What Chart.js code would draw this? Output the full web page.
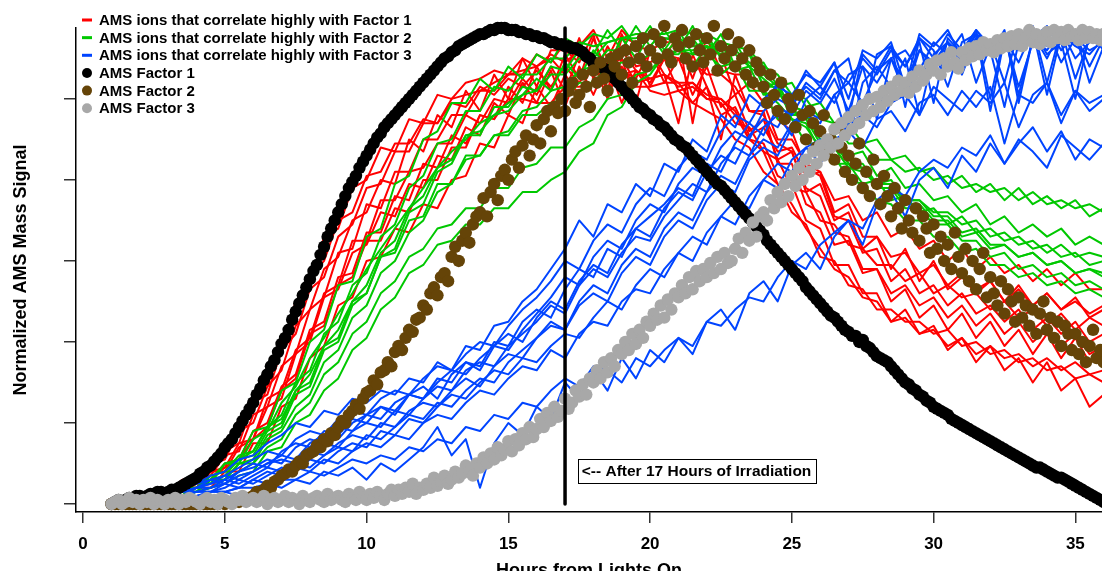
<!DOCTYPE html>
<html><head><meta charset="utf-8">
<script src="https://cdn.jsdelivr.net/npm/chart.js@4/dist/chart.umd.min.js"></script>
<style>html,body{margin:0;padding:0;overflow:hidden;background:#fff;}#wrap{width:1102px;height:580px;}canvas{display:block;}</style>
</head><body><div id="wrap"><canvas id="c" width="1102" height="580" style="width:1102px;height:580px"></canvas></div>
<script>
// ---------- DATA ----------
const xTickValues = [0,5,10,15,20,25,30,35];
const yTickValues = [0,20,40,60,80,100];
const markerHour = 17;
const noteText = '<-- After 17 Hours of Irradiation';
const noteHour = 17.45;
const noteLevel = 8.1;
const legendLabels = ['AMS ions that correlate highly with Factor 1','AMS ions that correlate highly with Factor 2','AMS ions that correlate highly with Factor 3','AMS Factor 1','AMS Factor 2','AMS Factor 3'];

const hoursLines = [1,1.5,2,2.5,3,3.5,4,4.5,5,5.5,6,6.5,7,7.5,8,8.5,9,9.5,10,10.5,11,11.5,12,12.5,13,13.5,14,14.5,15,15.5,16,16.5,17,17.5,18,18.5,19,19.5,20,20.5,21,21.5,22,22.5,23,23.5,24,24.5,25,25.5,26,26.5,27,27.5,28,28.5,29,29.5,30,30.5,31,31.5,32,32.5,33,33.5,34,34.5,35,35.5,36];
const hoursFactors = [
1,1.125,1.25,1.375,1.5,1.625,1.75,1.875, 2,2.125,2.25,2.375,2.5,2.625,2.75,2.875, 3,3.125,3.25,3.375,3.5,3.625,3.75,3.875,
4,4.125,4.25,4.375,4.5,4.625,4.75,4.875, 5,5.125,5.25,5.375,5.5,5.625,5.75,5.875, 6,6.125,6.25,6.375,6.5,6.625,6.75,6.875,
7,7.125,7.25,7.375,7.5,7.625,7.75,7.875, 8,8.125,8.25,8.375,8.5,8.625,8.75,8.875, 9,9.125,9.25,9.375,9.5,9.625,9.75,9.875,
10,10.125,10.25,10.375,10.5,10.625,10.75,10.875, 11,11.125,11.25,11.375,11.5,11.625,11.75,11.875, 12,12.125,12.25,12.375,12.5,12.625,12.75,12.875,
13,13.125,13.25,13.375,13.5,13.625,13.75,13.875, 14,14.125,14.25,14.375,14.5,14.625,14.75,14.875, 15,15.125,15.25,15.375,15.5,15.625,15.75,15.875,
16,16.125,16.25,16.375,16.5,16.625,16.75,16.875, 17,17.125,17.25,17.375,17.5,17.625,17.75,17.875, 18,18.125,18.25,18.375,18.5,18.625,18.75,18.875,
19,19.125,19.25,19.375,19.5,19.625,19.75,19.875, 20,20.125,20.25,20.375,20.5,20.625,20.75,20.875, 21,21.125,21.25,21.375,21.5,21.625,21.75,21.875,
22,22.125,22.25,22.375,22.5,22.625,22.75,22.875, 23,23.125,23.25,23.375,23.5,23.625,23.75,23.875, 24,24.125,24.25,24.375,24.5,24.625,24.75,24.875,
25,25.125,25.25,25.375,25.5,25.625,25.75,25.875, 26,26.125,26.25,26.375,26.5,26.625,26.75,26.875, 27,27.125,27.25,27.375,27.5,27.625,27.75,27.875,
28,28.125,28.25,28.375,28.5,28.625,28.75,28.875, 29,29.125,29.25,29.375,29.5,29.625,29.75,29.875, 30,30.125,30.25,30.375,30.5,30.625,30.75,30.875,
31,31.125,31.25,31.375,31.5,31.625,31.75,31.875, 32,32.125,32.25,32.375,32.5,32.625,32.75,32.875, 33,33.125,33.25,33.375,33.5,33.625,33.75,33.875,
34,34.125,34.25,34.375,34.5,34.625,34.75,34.875, 35,35.125,35.25,35.375,35.5,35.625,35.75,35.875, 36];

const factor1 = [
0,0.5,1,0.5,1,1.5,1,2, 2,1.5,2,2.5,2.5,3,3,2.5, 3,3.5,3.5,4,4.5,5,5.5,6,
6.5,7.5,8,9,9.5,10.5,11.5,12.5, 14,15,16,17.5,19,20.5,22,23.5, 25,27,28.5,30.5,32,34,35.5,37.5,
39.5,41,43,45.5,47.5,49.5,51.5,53.5, 55.5,57.5,59,61.5,63.5,66,68,70, 72,74,76,78,79.5,81,83,84.5,
86,87.5,89,90.5,91.5,93,94,95, 96,97,98,99,100,101,102,103, 104,105,106,107,108,109,110,110.5,
111.5,112,113,113.5,114,114.5,115,115.5, 116,116,116.5,117,117,117.5,117.5,117.5, 117,117,117,116.5,116.5,116,116,115.5,
115.5,115,115,114.5,114,114,113.5,113.5, 113,113,112.5,112.5,112,111.5,110.5,110, 109,108.5,108,107.5,107,106,105,104,
103,102,101,100,99,98,97.5,96.5, 96,95,94.5,93.5,93,92,91,90, 89.5,88.5,88,87,86,85,84,83,
82,81,80,79,78.5,77.5,76.5,75.5, 74.5,73.5,72.5,71.5,70.5,69.5,68.5,67.5, 66.5,65,64,63,62,61,60,59,
58,57,56,55,53.5,52.5,51.5,50.5, 49.5,48.5,47.5,46.5,46,45,44,43, 42.5,41.5,41.5,40,40.5,39,38.5,37.5,
36.5,36,35.5,35,34,33,32,31, 30,29.5,28.5,28,27,26.5,25.5,25, 24,23.5,23,22.5,22,21,20.5,20,
19.5,19,18.5,18,17.5,17,16.5,16, 15.5,15,14.5,14,13.5,13,12.5,12, 11.5,11,10.5,10,9.5,9,9,8.5,
8,7.5,7,6.5,6.5,6,5.5,5, 4.5,4,3.5,3,2.5,2,1.5,1, 0.5];
const factor2 = [
0,0,0,0,0,0,0,0, 0,0,0,0,0,0,0,0, 0,0,0,0,0,0,0,0,
0,0,0,0,0,0,0,0.5, 0,0.5,0.5,1,0.5,1,1,1.5, 2,3,2.5,3.5,4.5,4,5.5,6,
7,7.5,8.5,8,9.5,10.5,10,12, 12.5,13,14.5,14,16,15.5,17.5,17, 19,20.5,20,22,23,24.5,23.5,26,
27.5,28,30.5,29.5,32.5,33,35,34, 37.5,39,38,41,43,42.5,45.5,46, 49,48,52,53.5,51.5,56,57,55,
61,63.5,60,65,67,64.5,69,71, 72,75.5,71,77,79,75,81,82.5, 80,85,87,83,88.5,91,86,90,
93.5,89,95,97,92,98,96.5,100, 97,102,104,99,101,106,103,98, 107,104,109,105,102,110,108,111,
106,112,109,104,113,110,115,108, 112,116,110,114,118,111,109,115, 113,117,110,114,108,116,112,109,
115,111,118,107,113,110,116,112, 108,114,110,106,112,104,109,107, 103,99,106,101,97,104,95,100,
98,93,101,96,90,97,94,88, 92,96,87,90,85,93,88,82, 86,80,84,89,78,82,76,85,
79,74,81,76,71,78,73,68, 75,70,67,73,65,71,68,62, 69,63,66,60,64,58,67,61,
57,63,55,60,53,58,62,51, 56,52,49,55,47,53,50,45, 51,46,49,44,48,42,47,50,
43,46,41,45,39,44,42,38, 42,37,40,35,39,43,36,38, 35];
const factor3 = [
0,0.5,1,0,0.5,1.5,0.5,1, 0,1,0.5,1.5,0,1,0.5,0, 1,0.5,1.5,0,1,0.5,1.5,1,
0.5,0,1,1.5,0.5,1,0,1.5, 1,0.5,0,1.5,1,2,0.5,1, 1.5,0.5,1,2,0,1,1.5,0.5,
1,2,0.5,1.5,1,0,2,1, 0.5,1.5,2,1,0.5,2.5,1,1.5, 2,1,0.5,2.5,1.5,1,3,1.5,
1,2.5,1.5,3,2,1,2.5,3.5, 2,3.5,2.5,4,3,5,2.5,4, 3.5,5,4,6.5,4.5,5.5,7,5,
6,8,6.5,7.5,9.5,8,7,10, 9,11.5,10,12.5,11,14,12,13.5, 15.5,13,16,14.5,17.5,16,19,16.5,
18.5,21,19,22.5,20.5,24,21.5,23, 26,23.5,25,28,26.5,29.5,27,31, 30,33,31,35,32.5,36,34,38,
37,40,38,42,39.5,43,41,45, 44,47,45.5,49,46,50.5,48,52, 51,54,52,56,53,57.5,55,58,
56,59.5,57,61,58,62,59.5,60, 63,65.5,62,67,65,69.5,66,71, 72,70,75,73,77,74.5,79,76,
81,78.5,83,80,85,82,87,84, 88.5,86,90,88,92.5,89,94,91, 95.5,92.5,97,94,98.5,96,100,97,
100.5,98,102,99.5,103,101,104.5,102, 104,101.5,105.5,103,107,104.5,106,108.5, 107,109.5,106,110,108,111.5,109,107.5,
111.5,109.5,112.5,110.5,113,111,114,112, 113.5,111.5,114.5,112.5,115,113,115.5,113.5, 116,113,115,117,114,116,113.5,115,
116.5,114,117,115,116.5,114.5,117,115.5, 116,114.5,117,115,116.5,115,116,114.5, 116];

const ionsFactor1 = [
 [1,2,1,3,3,6,6,11,13,21, 24,34,38,50,54,66,68,78,80,88, 87,95,94,101,100,104,105,107,106,110, 108,111,109,112,110,106,112,107,104,110, 102,103,100,99,94,93,87,85,78,77, 70,69,64,63,59,59,55,57,52,54, 51,52,48,50,46,48,44,47,43,46, 44],
 [1,1,2,2,4,3,7,8,13,15, 25,27,38,42,53,56,66,69,78,79, 87,87,94,94,100,101,102,104,106,107, 108,110,106,115,105,113,107,105,112,104, 110,101,108,98,101,92,95,85,87,77, 79,70,72,63,66,58,63,55,60,53, 56,52,55,50,53,49,52,48,50,47, 49],
 [1,1,1,2,2,4,4,8,8,14, 16,24,26,37,40,51,53,62,64,72, 71,79,78,86,85,93,91,99,96,104, 99,107,98,108,101,109,99,107,102,101, 102,99,97,95,90,88,82,79,72,69, 61,60,54,53,48,48,45,45,42,43, 39,40,37,38,35,36,33,34,31,32, 30],
 [1,1,1,2,2,3,5,6,9,11, 16,19,28,31,42,44,54,56,65,65, 73,72,80,80,88,88,96,95,103,99, 108,102,111,105,115,106,116,108,109,111, 110,109,106,106,103,97,96,89,87,78, 76,67,66,58,58,50,53,46,49,43, 47,41,45,39,43,37,42,36,41,35, 38],
 [1,1,1,1,2,2,4,4,8,8, 15,15,24,26,36,39,49,51,60,61, 68,67,74,73,80,81,89,88,96,94, 103,98,106,101,109,100,110,104,105,106, 103,104,101,100,97,90,89,81,79,70, 68,59,59,52,52,45,48,42,44,38, 41,35,39,33,36,30,35,28,31,24, 27],
 [1,1,2,3,3,5,6,10,11,18, 20,29,33,44,48,58,61,70,72,80, 79,90,87,96,93,102,97,106,100,110, 103,112,112,109,116,102,115,114,103,110, 116,94,112,111,101,104,99,90,90,84, 82,72,74,66,66,61,62,57,59,54, 57,53,55,50,54,49,52,48,51,46, 48],
 [1,1,2,1,3,3,6,7,12,13, 22,24,34,37,48,51,62,63,74,73, 82,82,90,90,96,96,102,102,106,106, 111,109,114,113,117,110,117,113,112,114, 114,105,115,107,106,106,102,95,92,83, 81,71,70,62,63,55,58,52,54,49, 52,47,49,45,48,43,46,42,45,40, 42],
 [1,1,1,2,2,3,5,6,10,11, 18,20,29,32,43,45,56,57,67,67, 76,75,84,83,91,89,96,95,100,100, 99,99,103,103,104,105,106,107,105,106, 104,104,100,100,96,90,87,79,74,68, 63,58,56,51,50,45,46,42,43,39, 41,37,39,36,37,34,36,33,35,32, 33],
 [1,1,2,2,4,4,8,9,14,17, 26,29,40,45,56,60,70,72,81,82, 89,89,95,94,99,98,103,101,105,103, 107,103,108,104,109,102,108,103,103,104, 104,99,103,96,98,91,93,87,88,81, 82,75,76,70,72,66,68,63,65,60, 63,58,61,57,59,55,58,54,57,53, 53],
 [1,1,1,2,2,4,4,8,9,15, 16,26,28,38,41,52,54,65,65,75, 75,82,83,89,89,96,94,100,99,105, 101,108,102,111,109,108,110,99,112,106, 94,111,103,90,106,97,97,84,84,74, 72,64,65,57,58,52,54,49,51,46, 49,44,47,42,45,40,43,39,42,37, 39]
];
const ionsFactor2 = [
 [1,1,2,2,4,3,6,6,10,11, 18,19,28,30,40,43,54,55,66,68, 79,81,90,92,99,99,105,102,108,105, 111,109,115,113,116,115,118,113,118,112, 117,111,116,110,114,108,109,103,104,98, 99,94,94,89,90,85,86,82,83,79, 81,77,79,75,78,74,76,73,75,71, 73],
 [1,1,1,2,2,4,4,7,8,11, 13,19,22,30,33,42,45,54,57,66, 69,78,81,89,90,97,97,103,102,106, 106,110,110,114,113,114,115,116,116,115, 115,113,113,112,107,108,101,102,96,96, 91,91,86,87,81,83,78,79,75,76, 72,74,69,71,67,69,66,68,64,66, 64],
 [1,1,1,1,2,3,3,6,6,10, 11,17,19,27,29,38,40,49,52,61, 63,72,74,82,84,91,91,98,98,103, 102,108,107,112,111,117,112,118,113,117, 112,118,111,116,108,112,103,104,97,96, 90,90,84,84,79,80,75,75,71,71, 67,68,64,64,61,62,59,60,57,58, 56],
 [1,1,2,1,3,2,6,5,10,10, 16,18,25,29,36,41,47,52,58,63, 68,73,78,83,87,90,94,96,99,101, 105,102,109,105,112,108,115,110,116,111, 115,108,113,106,109,102,102,95,95,89, 89,84,84,79,80,75,76,72,73,69, 71,67,68,65,66,63,64,61,62,59, 60],
 [1,1,1,1,1,2,3,4,6,8, 10,14,16,22,25,32,35,42,45,52, 55,61,63,68,69,73,73,78,78,83, 84,88,88,93,95,100,101,106,107,111, 112,112,113,111,111,108,105,102,97,95, 89,88,83,83,78,78,73,73,69,69, 65,65,61,62,58,59,56,57,54,55, 53],
 [1,1,1,2,2,3,4,6,7,11, 12,18,20,28,30,39,41,50,52,61, 62,70,71,79,79,86,86,91,91,96, 96,99,100,104,104,108,109,109,111,110, 112,111,111,108,109,105,102,99,95,93, 88,88,83,82,79,79,75,75,72,72, 69,70,66,67,64,65,62,64,61,62, 61],
 [1,1,1,2,2,4,4,7,8,12, 13,19,21,28,32,39,43,50,54,62, 65,73,76,83,85,91,92,96,97,101, 102,106,106,110,110,114,115,115,116,116, 117,116,116,114,113,112,108,106,101,100, 95,94,89,89,85,85,82,83,80,81, 78,79,77,78,75,77,74,75,73,74, 72],
 [1,1,1,1,2,3,3,6,6,10, 10,16,18,24,27,35,38,46,49,57, 60,67,70,77,79,85,86,91,92,97, 98,102,103,107,108,112,112,113,115,115, 114,113,114,112,112,109,106,103,98,97, 91,89,84,83,79,79,74,74,70,70, 66,67,63,64,61,62,59,60,57,58, 57],
 [1,1,1,1,1,2,3,4,5,7, 8,13,14,20,22,28,31,38,41,48, 51,57,59,64,65,69,69,73,73,77, 77,80,82,87,89,96,98,104,106,111, 111,115,110,114,107,111,103,103,95,94, 87,86,80,79,75,74,70,70,66,66, 62,63,59,59,56,57,54,55,52,53, 51]
];
const ionsFactor3 = [
 [1,2,1,3,2,4,5,7,8,11, 12,15,17,20,19,23,22,26,25,28, 27,31,30,35,33,39,38,44,45,50, 53,58,63,70,66,74,72,79,76,84, 82,90,87,96,93,101,98,104,100,107, 103,109,95,111,107,113,98,115,110,116, 112,117,100,116,113,118,104,117,114,116, 112],
 [1,1,2,2,3,2,4,5,6,8, 10,9,13,15,14,18,17,21,20,24, 23,27,26,31,30,35,34,40,39,45, 48,46,53,58,56,63,61,68,71,74, 78,76,84,82,89,94,91,98,96,102, 99,105,97,108,104,110,101,112,108,114, 106,115,111,116,103,114,117,109,115,112, 114],
 [1,1,1,2,1,2,3,3,5,4, 6,8,7,10,9,12,14,13,17,16, 19,22,21,25,24,28,31,30,35,38, 41,44,43,49,52,50,57,61,59,66, 70,68,75,79,77,85,88,86,93,96, 94,101,104,99,107,110,104,112,109,114, 111,116,97,115,112,117,101,116,113,111, 115],
 [1,1,1,1,2,1,2,3,3,4, 4,5,6,6,8,7,9,11,10,12, 11,14,13,16,15,19,18,22,21,25, 24,28,31,29,34,33,30,36,34,38, 41,39,45,44,48,51,50,56,60,58, 64,67,70,68,75,78,76,82,85,83, 88,86,91,84,89,93,87,92,85,90, 88],
 [0,1,1,0,2,1,2,1,3,2, 3,5,4,6,5,8,7,9,6,10, 8,11,14,19,12,16,4,15,20,17, 24,21,30,26,33,28,36,31,38,35, 41,37,45,48,43,52,55,50,59,62, 58,66,70,64,74,77,71,80,83,78, 86,82,89,84,90,87,83,91,88,85, 89],
 [1,2,1,2,3,3,4,6,5,8, 9,11,10,14,16,15,19,18,22,24, 22,27,29,26,32,35,33,39,42,40, 46,50,48,55,59,57,64,68,66,73, 77,75,82,86,84,91,95,93,99,103, 100,107,104,110,106,112,108,114,99,115, 111,117,113,116,101,115,118,112,116,104, 113],
 [1,1,2,1,2,3,3,4,6,5, 7,9,8,11,13,12,15,17,16,20, 19,23,25,24,28,31,29,34,37,36, 41,45,43,50,54,52,59,63,61,68, 72,70,77,81,79,86,90,88,94,97, 95,101,90,104,108,103,110,96,111,114, 109,115,112,98,114,116,110,117,105,115, 116],
 [1,1,1,2,2,3,4,4,5,7, 8,10,12,11,15,17,16,20,22,21, 25,27,26,30,33,32,36,39,38,43, 47,51,56,54,61,65,63,70,74,72, 79,83,81,88,92,90,97,100,98,104, 101,107,110,96,111,113,108,115,112,103, 114,116,111,117,99,115,113,117,110,114, 116],
 [1,1,1,1,2,2,3,3,4,6, 5,7,9,8,11,10,13,15,14,18, 17,21,20,24,27,26,30,33,32,36, 35,39,42,41,46,50,48,54,58,56, 62,66,64,71,75,73,80,84,82,88, 90,88,94,96,93,99,101,96,103,100, 97,102,99,104,93,101,104,96,102,99, 101],
 [1,2,2,3,2,4,5,6,7,9, 11,13,12,16,18,17,21,23,22,26, 28,27,31,34,33,37,40,39,44,48, 51,55,60,58,65,69,67,74,78,76, 83,87,85,92,96,94,100,103,101,106, 104,109,100,112,110,114,103,116,113,117, 110,116,114,104,117,115,112,117,116,108, 115],
 [1,1,1,1,1,2,2,3,3,4, 6,5,7,9,8,11,10,13,15,14, 17,16,20,22,21,25,28,27,31,34, 33,38,36,42,45,44,50,53,52,58, 62,60,67,71,69,76,80,78,85,88, 84,90,92,88,95,97,92,99,101,96, 102,98,103,89,101,99,104,94,102,97, 100],
 [1,1,2,2,3,3,4,5,7,6, 8,10,11,10,13,15,14,18,20,19, 23,22,26,29,28,33,35,34,39,42, 45,49,47,54,58,56,62,66,65,71, 75,79,77,84,88,86,93,96,91,100, 103,99,106,108,95,110,112,107,114,111, 116,104,113,115,109,117,111,114,100,116, 113]
];

// ---------- STYLE ----------
const RED = '#ff0000', GREEN = '#00c800', BLUE = '#0044ff', BLACK = '#000000', BROWN = '#654408', GRAY = '#a8a8a8';
const FONT = '"Liberation Sans", Arial, Helvetica, sans-serif';
const DOT = 6.2;

function toPts(xs, ys) { return ys.map((v, i) => ({x: xs[i], y: v})); }

const datasets = [];
datasets.push({ type: 'line', data: [{x: markerHour, y: 0}, {x: markerHour, y: 117.5}], borderColor: BLACK, borderWidth: 3.5, pointRadius: 0, order: 0, clip: false });
datasets.push({ type: 'scatter', data: toPts(hoursFactors, factor3), backgroundColor: GRAY, borderWidth: 0, pointRadius: DOT, order: 1, clip: false });
datasets.push({ type: 'scatter', data: toPts(hoursFactors, factor2), backgroundColor: BROWN, borderWidth: 0, pointRadius: DOT, order: 2, clip: false });
datasets.push({ type: 'scatter', data: toPts(hoursFactors, factor1), backgroundColor: BLACK, borderWidth: 0, pointRadius: DOT, order: 3, clip: false });
ionsFactor3.forEach(s => datasets.push({ type: 'line', data: toPts(hoursLines, s), borderColor: BLUE, borderWidth: 2, pointRadius: 0, tension: 0, order: 4, clip: false }));
ionsFactor2.forEach(s => datasets.push({ type: 'line', data: toPts(hoursLines, s), borderColor: GREEN, borderWidth: 2, pointRadius: 0, tension: 0, order: 5, clip: false }));
ionsFactor1.forEach(s => datasets.push({ type: 'line', data: toPts(hoursLines, s), borderColor: RED, borderWidth: 2, pointRadius: 0, tension: 0, order: 6, clip: false }));

const legendKinds = [
  {color: RED, kind: 'line'}, {color: GREEN, kind: 'line'}, {color: BLUE, kind: 'line'},
  {color: BLACK, kind: 'dot'}, {color: BROWN, kind: 'dot'}, {color: GRAY, kind: 'dot'}
];

const overlay = {
  id: 'overlay',
  afterDraw(chart) {
    const {ctx, scales: {x, y}} = chart;
    ctx.save();
    ctx.font = 'bold 15.5px ' + FONT;
    const tw = ctx.measureText(noteText).width;
    const left = x.getPixelForValue(noteHour);
    const cy = y.getPixelForValue(noteLevel);
    const h = 24;
    ctx.fillStyle = '#fff';
    ctx.fillRect(left, cy - h / 2, tw + 8, h);
    ctx.strokeStyle = '#000'; ctx.lineWidth = 1;
    ctx.strokeRect(Math.round(left) + 0.5, Math.round(cy - h / 2) + 0.5, Math.round(tw + 8), h);
    ctx.fillStyle = '#000'; ctx.textBaseline = 'middle'; ctx.textAlign = 'left';
    ctx.fillText(noteText, left + 4, cy + 1);
    ctx.font = 'bold 15px ' + FONT;
    legendLabels.forEach((t, i) => {
      const yy = 20 + i * 17.65;
      const k = legendKinds[i];
      ctx.fillStyle = k.color;
      if (k.kind === 'line') { ctx.fillRect(82, yy - 1.5, 10, 3); }
      else { ctx.beginPath(); ctx.arc(87, yy, 5, 0, Math.PI * 2); ctx.fill(); }
      ctx.fillStyle = '#000';
      ctx.fillText(t, 99, yy + 1);
    });
    ctx.restore();
  }
};

new Chart(document.getElementById('c'), {
  data: { datasets },
  options: {
    responsive: false, animation: false, devicePixelRatio: 1,
    layout: { autoPadding: false, padding: { top: 28, right: 0, left: 0, bottom: 0 } },
    plugins: { legend: { display: false }, tooltip: { enabled: false } },
    elements: { line: { borderJoinStyle: 'round', borderCapStyle: 'round' } },
    scales: {
      x: {
        type: 'linear', min: -0.25, max: 35.94,
        afterBuildTicks: s => { s.ticks = xTickValues.map(v => ({value: v})); },
        grid: { drawOnChartArea: false, drawTicks: true, tickLength: 11, color: '#333', lineWidth: 1.5 },
        border: { display: true, color: '#000', width: 1.5 },
        ticks: { color: '#000', padding: 0, font: { family: FONT, size: 17, weight: 'bold', lineHeight: 2.5176 } },
        title: { display: true, text: 'Hours from Lights On', color: '#000', font: { family: FONT, size: 18, weight: 'bold' }, padding: { top: -5.6, bottom: -1.8 } }
      },
      y: {
        type: 'linear', min: -1.975, max: 117.5,
        afterBuildTicks: s => { s.ticks = yTickValues.map(v => ({value: v})); },
        grid: { drawOnChartArea: false, drawTicks: true, tickLength: 12, color: '#333', lineWidth: 1.5 },
        border: { display: true, color: '#000', width: 1.5 },
        ticks: { display: false },
        title: { display: true, text: 'Normalized AMS Mass Signal', color: '#000', font: { family: FONT, size: 18, weight: 'bold' }, padding: { top: 10, bottom: 32.4 } }
      }
    }
  },
  plugins: [overlay]
});
</script></body></html>
